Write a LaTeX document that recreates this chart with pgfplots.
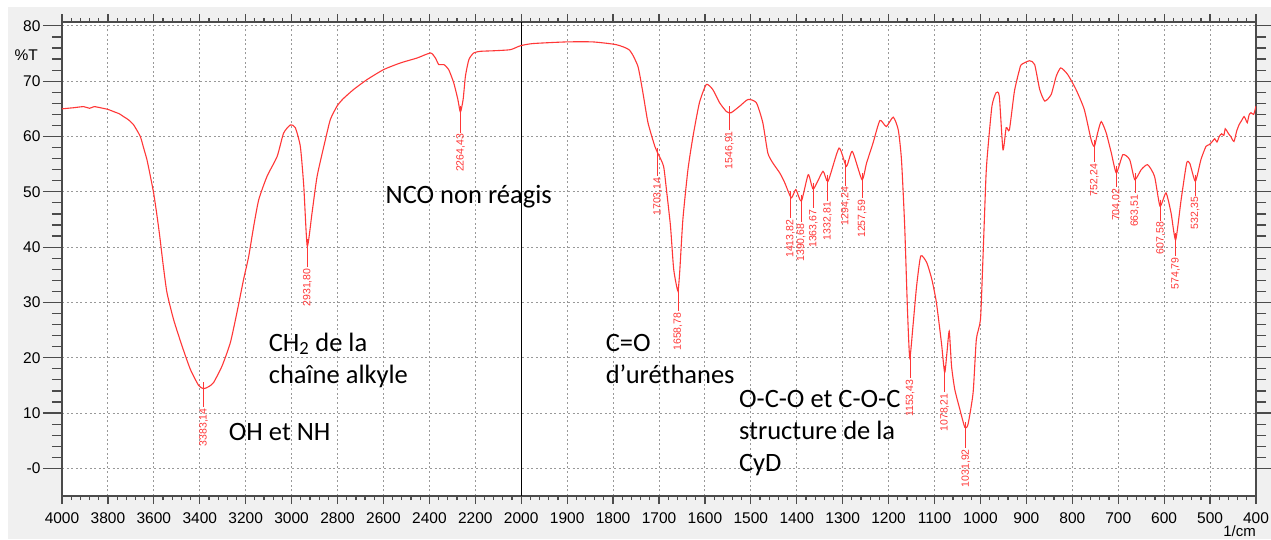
\documentclass[border=0pt]{standalone}
\usepackage{pgfplots}
\pgfplotsset{compat=1.18}
\usepackage{pgfplotstable}
\usepackage{fontspec}
\setmainfont{Liberation Sans}
\newfontfamily\calib{Carlito}

\definecolor{bg}{RGB}{240,240,240}
\definecolor{spec}{RGB}{255,55,55}
\definecolor{axgray}{RGB}{75,75,75}

% wavenumber (1/cm) and transmittance (%T)
\pgfplotstableread{
w T
4000 65.0
3950 65.2
3906 65.4
3880 65.1
3860 65.4
3833 65.2
3800 64.9
3775 64.5
3750 64.1
3732 63.6
3710 63.0
3688 62.1
3659 60.0
3645 58.0
3630 55.8
3615 52.8
3601 49.8
3588 46.2
3575 42.2
3560 37.0
3543 31.8
3514 26.9
3477 22.1
3441 17.9
3405 15.0
3383 14.4
3360 14.8
3340 15.5
3303 18.5
3267 22.7
3238 28.2
3209 34.2
3187 38.3
3165 43.8
3143 48.6
3107 52.8
3063 56.4
3035 60.6
3005 62.1
2984 61.6
2962 58.2
2947 51.0
2932 40.2
2911 46.2
2889 52.8
2853 59.4
2831 63.1
2802 65.5
2776 66.8
2730 68.5
2671 70.3
2599 72.1
2526 73.3
2453 74.2
2395 75.1
2374 74.2
2359 73.0
2337 73.0
2316 72.1
2294 69.7
2276 66.7
2265 64.4
2253 66.7
2243 70.9
2228 73.9
2207 75.1
2178 75.4
2120 75.5
2047 75.7
2004 76.4
1975 76.8
1902 77.1
1844 77.1
1793 76.6
1764 75.6
1746 72.7
1735 67.9
1724 62.5
1709 58.2
1701 56.7
1690 54.6
1683 49.8
1675 43.8
1668 36.0
1659 32.1
1655 35.4
1648 45.0
1637 54.0
1626 60.0
1612 66.1
1597 69.4
1583 68.5
1568 66.1
1553 64.5
1543 64.3
1524 65.5
1506 66.7
1488 66.1
1474 62.5
1463 57.0
1452 55.2
1437 53.4
1426 51.6
1412 48.9
1402 50.4
1390 48.3
1375 53.1
1364 50.5
1343 53.7
1332 51.9
1308 57.9
1292 54.6
1279 57.3
1258 52.2
1248 55.2
1234 58.8
1219 62.9
1205 61.8
1190 63.5
1179 61.2
1172 55.8
1165 43.8
1159 28.8
1154 20.0
1147 25.7
1139 33.0
1130 38.4
1117 37.2
1106 34.2
1096 30.0
1085 22.7
1078 17.3
1073 20.9
1068 24.8
1063 18.5
1056 14.3
1045 10.7
1034 7.4
1027 8.0
1016 13.7
1009 23.3
1000 26.9
995 37.0
988 52.8
984 57.6
975 65.5
966 67.9
959 67.3
951 57.6
944 61.6
937 61.2
926 68.2
915 72.1
911 73.0
893 73.7
882 73.0
871 68.5
860 66.4
846 67.6
835 70.9
825 72.4
810 71.2
792 68.5
774 64.9
759 59.4
752 58.2
745 60.6
737 62.7
726 60.6
715 57.0
704 53.4
690 56.7
675 55.8
664 52.2
650 54.0
636 54.9
621 52.8
609 47.4
596 49.8
585 46.2
575 41.3
563 48.6
551 55.2
544 55.1
532 51.9
520 55.8
509 58.2
502 58.5
495 59.1
490 59.6
485 59.0
480 60.0
475 60.5
470 60.2
467 61.4
462 60.8
458 60.3
455 60.0
448 59.1
442 61.0
437 62.1
432 62.8
426 63.6
422 63.0
419 62.5
415 63.9
411 64.3
405 64.0
400 65.5
}\spectrum

% peak marker: x position, top of tick, end of leader, label
\newcommand\pk[4]{\draw[spec, line width=0.8pt] (axis cs:#1,#2) -- (axis cs:#1,#3)
  node[rotate=90, anchor=east, inner sep=1pt, text=spec,
       font=\fontsize{10.5}{10.5}\selectfont] {#4};}

\begin{document}
\begin{tikzpicture}
\useasboundingbox (0,0) rectangle (1271pt,539pt);
\fill[bg] (8pt,0) rectangle (1271pt,532pt);
\begin{axis}[
  at={(62pt,43pt)}, anchor=south west,
  width=1194pt, height=474pt, scale only axis,
  xmin=0, xmax=26, ymin=-5, ymax=80.7,
  xtick={0,1,...,26},
  xticklabels={4000,3800,3600,3400,3200,3000,2800,2600,2400,2200,2000,1900,1800,1700,1600,1500,1400,1300,1200,1100,1000,900,800,700,600,500,400},
  ytick={0,10,...,80},
  yticklabels={-0,10,20,30,40,50,60,70,80},
  minor x tick num=4, minor y tick num=4,
  tick align=outside,
  major tick length=8pt, minor tick length=4pt,
  y tick style={/pgfplots/major tick length=19pt, /pgfplots/minor tick length=10pt},
  every tick/.style={axgray, line width=1.2pt},
  grid=major,
  major grid style={black!40, dash pattern=on 2pt off 2.6pt, line width=1pt},
  axis line style={axgray, line width=1.6pt},
  ticklabel style={font=\fontsize{15.5}{15.5}\selectfont, text=black},
  yticklabel style={xshift=-10pt},
  xticklabel style={yshift=-5pt},
  axis background/.style={fill=white},
]
\draw[black, line width=0.8pt] (axis cs:10,-5) -- (axis cs:10,80.7);
\addplot[spec, line width=1.1pt, no marks, smooth, tension=0.35]
  table[x expr={\thisrow{w}>=2000 ? (4000-\thisrow{w})/200 : 10+(2000-\thisrow{w})/100}, y=T] {\spectrum};

\pk{3.084}{15.6}{11.1}{3383,14}
\pk{5.341}{41.4}{36.4}{2931,80}
\pk{8.678}{65.6}{60.7}{2264,43}
\pk{12.969}{57.9}{52.8}{1703,14}
\pk{13.412}{33.3}{28.4}{1658,78}
\pk{14.531}{65.5}{61.2}{1546,91}
\pk{15.862}{50.2}{45.2}{1413,82}
\pk{16.093}{49.5}{44.5}{1390,68}
\pk{16.363}{51.6}{47.0}{1363,67}
\pk{16.672}{53.1}{48.4}{1332,81}
\pk{17.058}{55.8}{51.1}{1294,24}
\pk{17.424}{53.4}{48.8}{1257,59}
\pk{18.466}{20.9}{16.3}{1153,43}
\pk{19.218}{18.5}{13.8}{1078,21}
\pk{19.681}{8.3}{3.7}{1031,92}
\pk{22.478}{59.4}{55.3}{752,24}
\pk{22.960}{54.6}{50.8}{704,02}
\pk{23.365}{53.4}{49.7}{663,51}
\pk{23.924}{48.6}{44.8}{607,58}
\pk{24.252}{42.5}{38.4}{574,79}
\pk{24.677}{53.1}{49.3}{532,35}

\begin{scope}[every node/.style={anchor=base west, inner sep=0pt,
    font=\calib\fontsize{26.5}{26.5}\selectfont}]
\node at (axis cs:7.044,47.9) {NCO non réagis};
\node at (axis cs:4.50,21.2) {CH\textsubscript{2} de la};
\node at (axis cs:4.50,15.4) {chaîne alkyle};
\node at (axis cs:3.63,5.1) {OH et NH};
\node at (axis cs:11.837,21.2) {C=O};
\node at (axis cs:11.837,15.4) {d’uréthanes};
\node at (axis cs:14.74,11.0) {O-C-O et C-O-C};
\node at (axis cs:14.74,5.3) {structure de la};
\node at (axis cs:14.74,-0.6) {CyD};
\end{scope}
\end{axis}
\node[anchor=east, inner sep=0pt, font=\fontsize{15.5}{15.5}\selectfont] at (38pt,484pt) {\%T};
\node[anchor=base east, inner sep=0pt, font=\fontsize{15}{15}\selectfont] at (1256pt,3pt) {1/cm};
\end{tikzpicture}
\end{document}
